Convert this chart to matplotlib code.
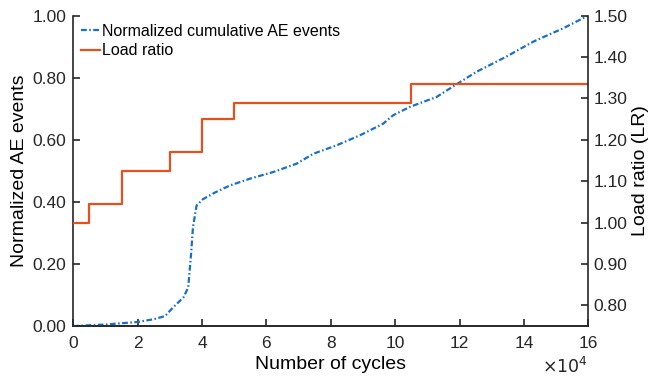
import matplotlib
matplotlib.use('Agg')
import matplotlib.pyplot as plt
import numpy as np

plt.rcParams['font.family'] = ['Liberation Sans', 'DejaVu Sans']

# normalized cumulative AE events (x in 10^4 cycles)
ae_x = [0, 1.0, 2.0, 2.5, 2.85, 3.1, 3.42, 3.57, 3.65, 3.72, 3.83, 4.02, 4.4, 4.87,
        5.5, 6.21, 6.94, 7.46, 8.18, 8.9, 9.21, 9.63, 9.94, 10.46, 11.29, 11.91,
        12.53, 13.46, 14.29, 15.22, 16.0]
ae_y = [0, 0.005, 0.013, 0.022, 0.032, 0.06, 0.092, 0.124, 0.22, 0.32, 0.388, 0.408,
        0.43, 0.453, 0.475, 0.496, 0.523, 0.555, 0.582, 0.614, 0.63, 0.652, 0.679,
        0.706, 0.738, 0.779, 0.819, 0.868, 0.916, 0.959, 1.0]

# load ratio steps
lr_x = [0, 0.5, 1.5, 3.0, 4.0, 5.0, 10.5, 16.0]
lr_y = [1.00, 1.045, 1.125, 1.17, 1.25, 1.29, 1.335, 1.335]

blue = '#1a6fc8'
orange = '#e5501c'
dark = '#262626'

fig = plt.figure(figsize=(6.51, 3.80), dpi=100)
ax = fig.add_axes([0.1126, 0.142, 0.791, 0.817])
ax2 = ax.twinx()

l1, = ax.plot(ae_x, ae_y, color=blue, linestyle=(0, (2.6, 1.1, 0.7, 1.1)), linewidth=1.6,
              label='Normalized cumulative AE events', zorder=3)
l2, = ax2.plot(lr_x, lr_y, color=orange, drawstyle='steps-post', linewidth=1.6,
               label='Load ratio')

ax.set_xlim(0, 16)
ax.set_ylim(0, 1.0)
ax2.set_ylim(0.75, 1.50)
ax.set_xticks(np.arange(0, 17, 2))
ax.set_yticks(np.arange(0, 1.01, 0.2))
ax.set_yticklabels(['%.2f' % v for v in np.arange(0, 1.01, 0.2)])
ax2.set_yticks(np.arange(0.8, 1.51, 0.1))
ax2.set_yticklabels(['%.2f' % v for v in np.arange(0.8, 1.51, 0.1)])

for a in (ax, ax2):
    a.spines['top'].set_visible(False)
    for s in a.spines.values():
        s.set_linewidth(1.2)
        s.set_color(dark)
    a.tick_params(direction='in', labelsize=12.5, length=5, width=1.2, colors=dark, pad=5)
ax.tick_params(axis='x', pad=7)
ax2.tick_params(axis='y', pad=4)
ax2.spines['left'].set_visible(False)
ax.spines['right'].set_visible(False)

ax.set_xlabel('Number of cycles', fontsize=14, labelpad=4)
ax.set_ylabel('Normalized AE events', fontsize=14, labelpad=3)
ax2.set_ylabel('Load ratio (LR)', fontsize=14, labelpad=3)
ax.text(1.0, -0.095, r'$\times10^{4}$', transform=ax.transAxes, ha='right', va='top',
        fontsize=12.5, color=dark)

ax.legend([l1, l2], [l1.get_label(), l2.get_label()], loc='upper left', frameon=False,
          fontsize=11.5, handlelength=1.2, handletextpad=0.1, borderaxespad=0.2,
          labelspacing=0.3, borderpad=0.3)

fig.savefig('out.png', dpi=100)
